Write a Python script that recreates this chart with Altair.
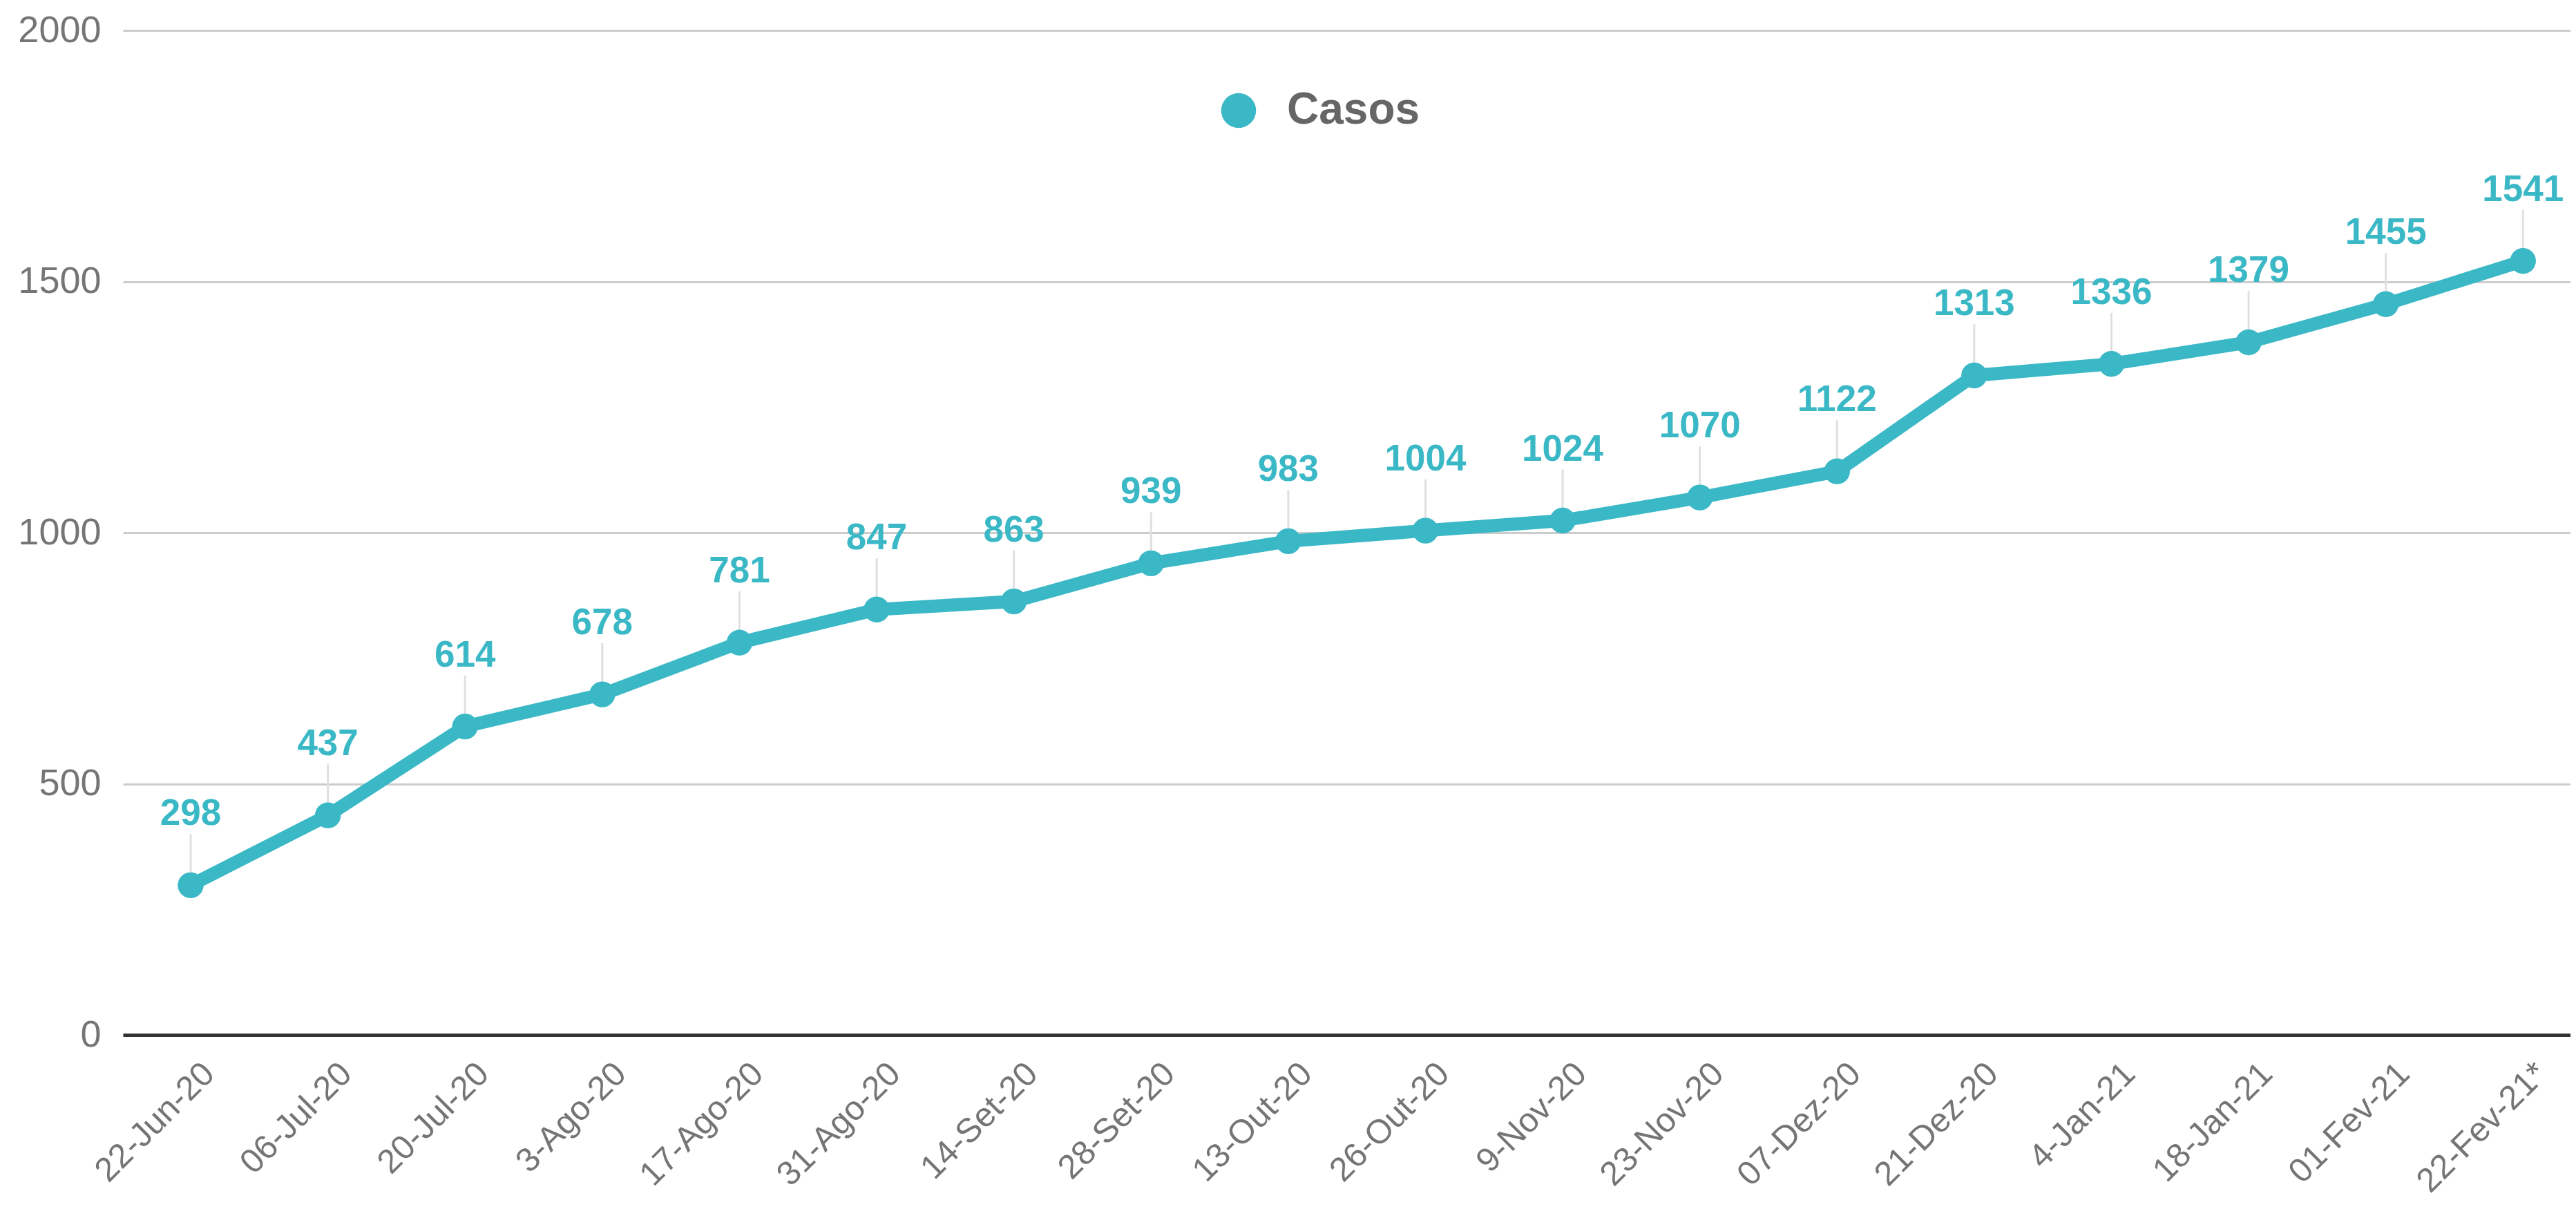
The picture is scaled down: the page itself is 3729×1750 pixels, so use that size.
import altair as alt
import pandas as pd

dates = ["22-Jun-20", "06-Jul-20", "20-Jul-20", "3-Ago-20", "17-Ago-20", "31-Ago-20",
         "14-Set-20", "28-Set-20", "13-Out-20", "26-Out-20", "9-Nov-20", "23-Nov-20",
         "07-Dez-20", "21-Dez-20", "4-Jan-21", "18-Jan-21", "01-Fev-21", "22-Fev-21*"]
casos = [298, 437, 614, 678, 781, 847, 863, 939, 983, 1004, 1024, 1070,
         1122, 1313, 1336, 1379, 1455, 1541]
y_ticks = [0, 500, 1000, 1500, 2000]

df = pd.DataFrame({
    "i": list(range(len(dates))),
    "data": dates,
    "Casos": casos,
    "serie": ["Casos"] * len(dates),
})

TEAL = "#3BB8C6"
GRAY = "#757575"
FONT = "Liberation Sans"
W, H = 3543, 1454

label_expr = "[" + ",".join("'" + d + "'" for d in dates) + "][datum.value]"

x = alt.X(
    "i:Q",
    scale=alt.Scale(domain=[-0.4935, 17.346], nice=False, zero=False),
    axis=alt.Axis(
        values=list(range(len(dates))), labelExpr=label_expr, labelAngle=315,
        labelAlign="right", labelBaseline="middle", labelPadding=48, labelOffset=26,
        labelFontSize=49, labelColor=GRAY, labelFont=FONT, grid=False, ticks=False,
        domainColor="#333333", domainWidth=5, title=None, labelOverlap=False,
        labelLimit=0,
    ),
)
y = alt.Y(
    "Casos:Q",
    scale=alt.Scale(domain=[0, 2000], nice=False),
    axis=alt.Axis(
        values=y_ticks, format="d", grid=True, gridColor="#cccccc", gridWidth=3,
        domain=False, ticks=False, labelPadding=32, labelFontSize=54,
        labelColor=GRAY, labelFont=FONT, title=None,
    ),
)

base = alt.Chart(df)

line = base.mark_line(color=TEAL, strokeWidth=19).encode(x=x, y=y)

leaders = base.mark_rule(color="#e0e0e0", strokeWidth=3, yOffset=-74).encode(
    x=x, y=y, y2=alt.Y2("Casos:Q")
)

points = base.mark_circle(size=1400, opacity=1).encode(
    x=x, y=y,
    color=alt.Color(
        "serie:N",
        scale=alt.Scale(range=[TEAL]),
        legend=alt.Legend(
            orient="none", legendX=1583, legendY=84, title=None, padding=0,
            symbolType="circle", symbolSize=2550, symbolStrokeWidth=0,
            symbolOpacity=1, labelFontSize=64, labelFont=FONT,
            labelFontWeight="bold", labelColor="#666666", labelOffset=38,
            labelLimit=0,
        ),
    ),
)

labels = base.mark_text(
    dy=-87, baseline="alphabetic", align="center", fontSize=53,
    fontWeight="bold", font=FONT, color=TEAL,
).encode(x=x, y=y, text="Casos:Q")

chart = alt.layer(leaders, line, points, labels).properties(
    width=W, height=H, background="white",
    autosize=alt.AutoSizeParams(type="none"),
    padding={"left": 170, "top": 36, "right": 0, "bottom": 244},
).configure_view(stroke=None)

chart.save("out.html", embed_options={"renderer": "svg", "actions": False})
